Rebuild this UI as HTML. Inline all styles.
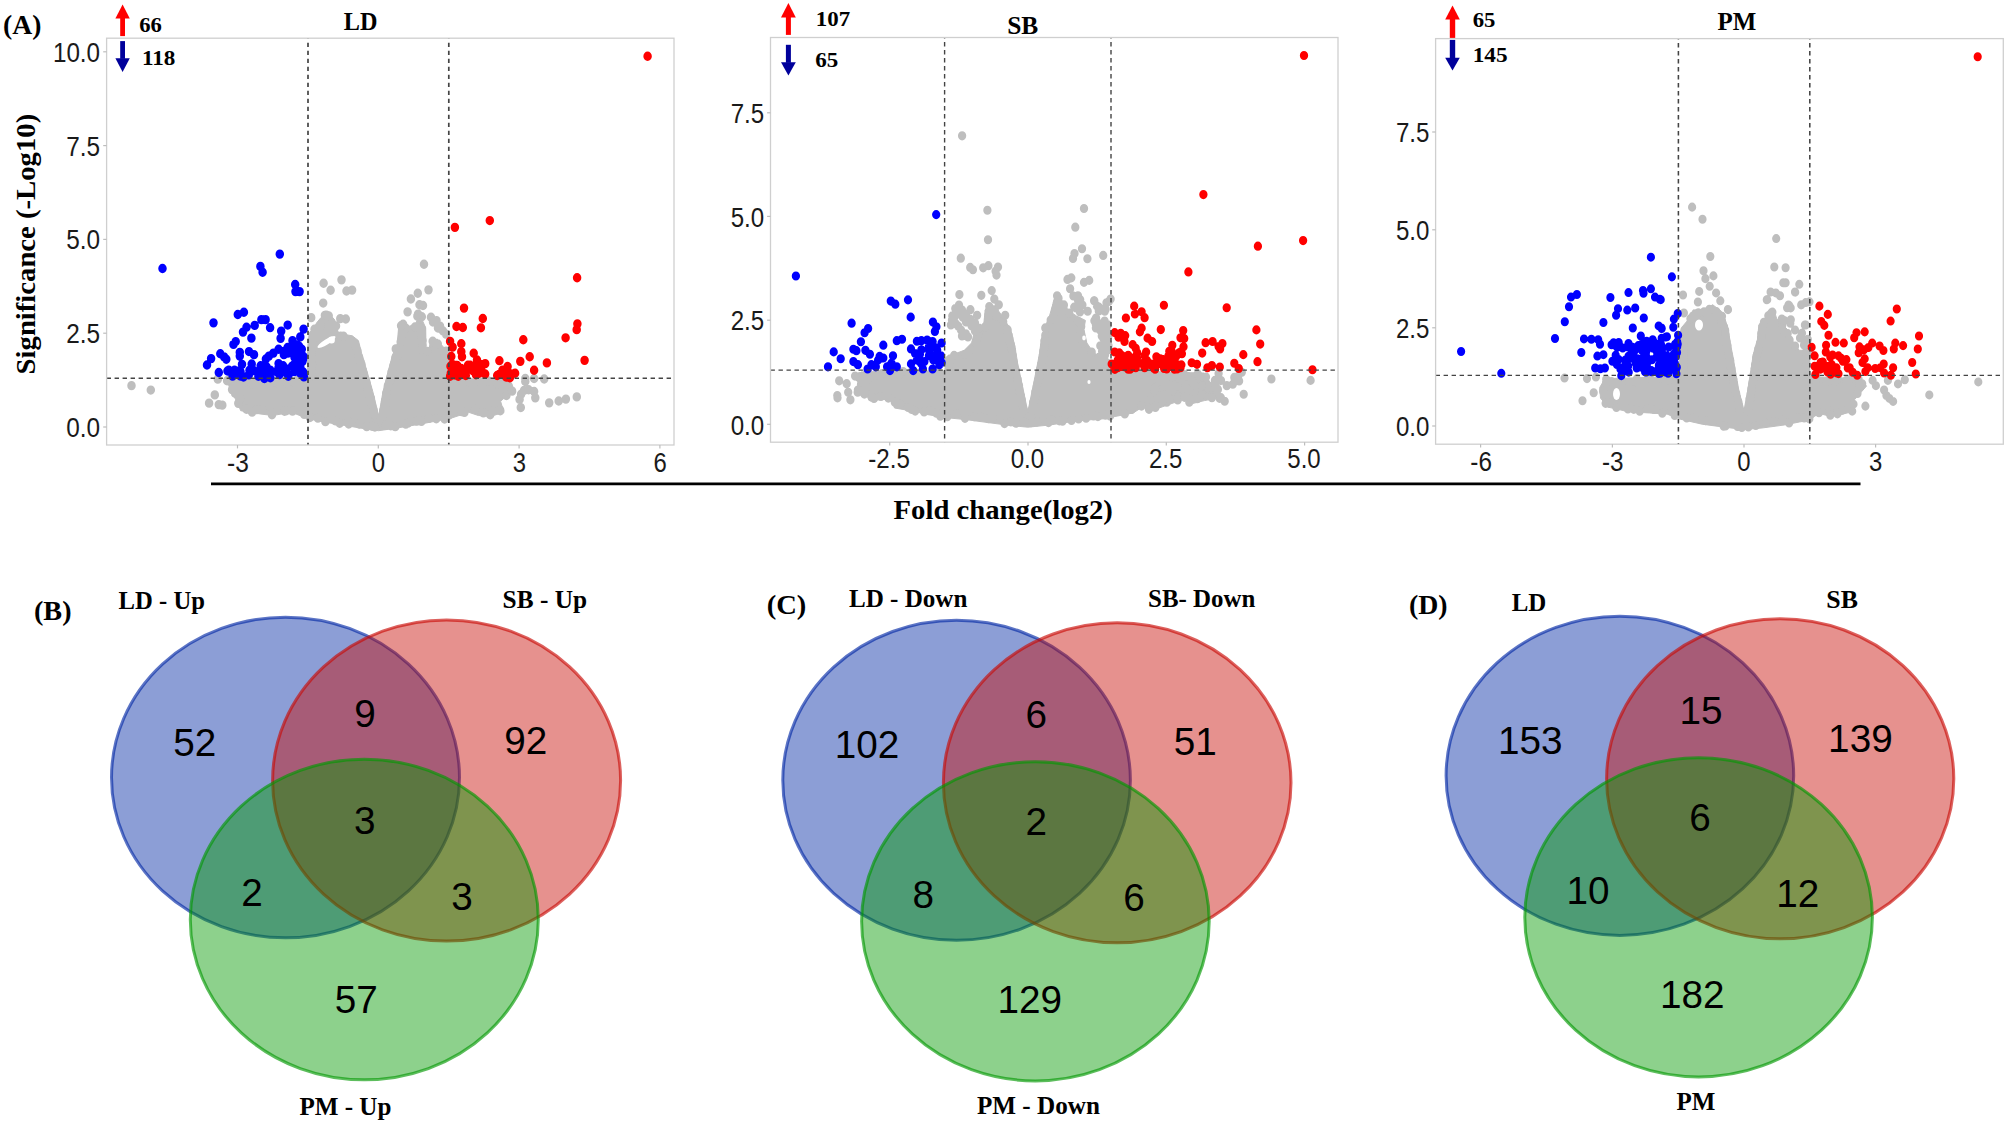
<!DOCTYPE html>
<html><head><meta charset="utf-8"><title>Figure</title>
<style>html,body{margin:0;padding:0;background:#fff}svg{display:block}</style></head>
<body><svg width="2007" height="1124" viewBox="0 0 2007 1124">
<rect width="2007" height="1124" fill="#fff"/>
<g>
<polygon points="226.4,379.6 231.2,391.6 237.5,402.8 240.7,410.7 259.9,413.9 272.6,415.5 291.7,412.3 307.7,418.7 323.6,421.9 347.6,425.9 366.7,429.1 378.6,430.7 395.4,428.3 419.3,424.3 440.0,420.3 449.6,418.7 468.7,412.3 478.3,415.5 491.0,416.3 503.8,412.3 500.6,401.2 513.4,390.0 511.8,383.6 503.8,379.6 449.6,378.9 448.0,350.2 443.2,347.0 438.4,340.6 430.5,340.6 428.9,350.2 426.0,350.0 425.7,327.8 419.3,313.5 416.1,323.0 409.7,326.2 401.8,323.0 398.6,327.8 397.2,343.8 392.6,354.9 387.8,372.5 383.0,391.6 378.7,416.0 372.8,391.6 366.4,369.3 361.6,353.3 358.4,340.6 352.3,335.8 342.8,334.2 338.0,332.6 336.5,326.0 334.8,320.0 330.0,314.5 326.0,313.5 321.0,317.5 316.5,323.0 313.5,329.0 309.3,332.6 307.7,350.2 307.7,378.9" fill="#bebebe" stroke="#bebebe" stroke-width="1" stroke-linejoin="round"/><path d="M230.8 344.4h0M232.1 354.2h0M235.0 357.4h0M240.0 362.6h0M238.3 366.7h0M246.5 372.0h0M252.1 374.7h0M257.0 372.4h0M262.0 372.1h0M272.0 377.1h0M272.3 375.1h0M284.6 373.9h0M286.3 373.4h0M292.5 373.7h0M304.2 376.7h0M309.9 379.6h0M317.9 380.1h0M325.4 383.3h0M335.1 382.5h0M339.7 384.8h0M348.3 383.2h0M348.7 385.5h0M359.2 385.5h0M366.7 387.9h0M372.1 387.5h0M374.9 388.2h0M385.4 386.7h0M390.8 387.1h0M395.3 387.9h0M405.8 385.6h0M407.9 384.7h0M416.9 382.8h0M421.4 383.1h0M428.9 380.3h0M436.3 380.7h0M444.6 380.9h0M448.7 377.4h0M461.2 374.1h0M464.4 374.9h0M475.1 372.0h0M483.4 375.3h0M490.2 377.0h0M492.8 373.3h0M500.3 373.4h0M500.1 372.8h0M506.4 359.5h0M509.2 352.8h0M508.2 350.2h0M504.1 348.1h0M500.4 347.2h0M497.4 349.1h0M488.3 346.2h0M482.7 347.3h0M477.5 346.6h0M470.4 347.7h0M463.9 346.9h0M461.5 346.0h0M454.5 347.4h0M445.3 342.2h0M445.1 339.5h0M445.0 338.1h0M445.5 334.0h0M445.5 333.0h0M445.0 328.0h0M444.5 326.9h0M444.9 323.3h0M444.3 321.0h0M446.2 319.2h0M437.8 312.7h0M435.9 312.0h0M432.7 310.2h0M427.6 319.5h0M421.7 317.9h0M422.4 313.9h0M421.7 310.7h0M422.5 309.5h0M421.8 306.3h0M421.7 303.4h0M421.8 299.0h0M420.5 298.4h0M417.4 287.4h0M421.8 287.9h0M415.0 297.3h0M405.9 298.4h0M403.1 294.8h0M402.5 301.2h0M402.4 302.1h0M402.2 305.1h0M401.3 309.2h0M400.8 310.6h0M395.8 317.2h0M397.5 323.4h0M395.5 325.0h0M395.3 328.7h0M394.2 330.8h0M393.5 332.5h0M393.1 334.8h0M391.7 338.0h0M391.6 339.8h0M390.5 343.2h0M390.0 346.3h0M387.9 350.7h0M388.0 351.6h0M387.0 356.9h0M386.3 357.5h0M386.2 361.3h0M385.1 364.7h0M384.9 367.4h0M384.9 369.1h0M384.2 371.2h0M383.2 373.4h0M382.3 378.5h0M374.3 376.9h0M373.7 373.9h0M373.4 372.5h0M372.0 368.3h0M370.9 365.4h0M371.1 364.8h0M370.9 362.0h0M369.4 359.5h0M368.1 354.8h0M367.8 353.1h0M366.7 348.9h0M366.1 346.6h0M365.6 345.1h0M363.7 339.9h0M362.8 336.9h0M362.2 336.0h0M361.4 331.3h0M360.5 328.9h0M359.4 327.8h0M359.1 324.9h0M357.2 319.2h0M357.3 318.7h0M355.8 315.6h0M355.0 313.2h0M353.1 311.5h0M343.4 305.6h0M340.7 305.7h0M334.5 302.5h0M336.0 296.3h0M328.7 287.1h0M327.0 287.6h0M324.9 286.7h0M320.7 296.0h0M314.5 299.3h0M314.7 302.1h0M312.9 305.8h0M312.8 308.1h0M312.5 309.9h0M311.8 313.2h0M311.6 315.7h0M311.5 321.2h0M311.7 323.2h0M311.4 326.9h0M311.4 327.9h0M311.9 330.9h0M311.4 335.4h0M311.6 336.7h0M311.6 340.3h0M311.1 342.3h0M306.2 345.2h0M298.0 345.2h0M294.8 347.6h0M287.2 348.3h0M279.6 348.7h0M275.5 347.2h0M265.2 345.5h0M258.0 346.0h0M252.9 349.4h0M246.3 346.7h0M244.5 347.5h0M233.2 346.7h0M227.1 346.1h0" fill="none" stroke="#bebebe" stroke-width="8.50" stroke-linecap="round" transform="scale(1,1.100)"/>
<ellipse cx="326.5" cy="342.0" rx="10.5" ry="2.7" fill="#fff" transform="rotate(-32 326.5 342.0)"/>
<ellipse cx="331.5" cy="340.0" rx="3.4" ry="3.6" fill="#fff" transform="rotate(0 331.5 340.0)"/>
<path d="M131.5 350.6h0M150.8 354.6h0M217.8 344.7h0M214.8 359.0h0M209.1 366.5h0M218.8 367.8h0M222.3 368.3h0M424.0 240.2h0M341.5 254.4h0M323.6 257.5h0M330.6 263.9h0M346.5 264.5h0M352.1 263.7h0M323.2 275.5h0M428.5 263.5h0M417.8 266.6h0M410.9 271.8h0M419.5 277.0h0M423.0 277.7h0M407.6 283.5h0M418.1 285.6h0M311.2 288.8h0M326.4 286.5h0M340.3 289.7h0M345.8 290.0h0M431.0 288.4h0M436.5 291.5h0M440.0 296.5h0M446.0 303.7h0M401.1 296.1h0M525.3 344.1h0M525.3 346.8h0M534.1 344.1h0M544.2 344.5h0M512.1 355.6h0M524.1 354.9h0M528.6 354.3h0M534.1 355.9h0M535.3 361.7h0M521.1 358.4h0M519.6 363.1h0M520.8 370.5h0M549.2 366.2h0M558.7 364.5h0M565.9 362.8h0M576.8 360.8h0M433.0 292.7h0M438.0 298.2h0M443.0 300.9h0" fill="none" stroke="#bebebe" stroke-width="8.50" stroke-linecap="round" transform="scale(1,1.100)"/>
<path d="M162.5 244.1h0M279.8 231.0h0M260.4 242.2h0M262.6 247.5h0M295.2 258.6h0M295.5 265.1h0M299.6 265.1h0M243.9 283.9h0M237.8 285.9h0M213.5 293.5h0M261.4 290.6h0M265.6 290.6h0M254.7 295.8h0M246.5 297.5h0M243.0 301.9h0M270.1 297.9h0M287.7 295.5h0M281.2 301.0h0M303.6 299.2h0M251.4 307.4h0M280.6 307.6h0M300.3 306.3h0M292.5 309.7h0M235.7 310.5h0M233.5 313.1h0M287.6 315.9h0M278.6 317.5h0M297.3 316.2h0M301.8 317.5h0M249.0 319.6h0M254.0 322.4h0M239.8 320.3h0M239.8 323.7h0M220.3 321.6h0M224.1 324.4h0M226.3 326.6h0M211.1 326.0h0M207.0 331.8h0M273.4 321.0h0M268.9 323.7h0M265.9 326.4h0M283.9 322.4h0M289.8 318.9h0M295.8 325.7h0M301.0 323.0h0M302.5 328.5h0M242.0 331.2h0M251.7 330.9h0M260.7 332.5h0M278.6 330.5h0M283.1 332.5h0M294.3 331.2h0M300.3 333.9h0M218.8 338.6h0M227.5 337.3h0M234.5 336.6h0M240.5 337.9h0M243.5 342.7h0M249.5 336.6h0M257.0 337.9h0M258.4 342.0h0M264.4 344.1h0M270.4 336.6h0M270.4 343.4h0M276.4 337.9h0M279.4 340.6h0M286.8 339.3h0M288.3 342.0h0M294.3 337.9h0M300.3 339.3h0M303.3 340.6h0M264.4 335.3h0M297.3 328.5h0M298.8 320.3h0M299.0 314.7h0M295.7 330.8h0M284.6 319.3h0M295.9 326.0h0M303.9 342.6h0M297.0 321.6h0M303.0 338.0h0M303.5 324.1h0M295.1 335.9h0M298.2 315.5h0M284.6 334.4h0M295.4 315.4h0M287.9 321.0h0M294.4 323.3h0M303.0 326.8h0M300.8 317.5h0M301.8 337.1h0M294.5 324.8h0M294.3 320.9h0M297.3 313.9h0M264.1 339.3h0M278.6 334.2h0M228.8 336.5h0M248.8 340.8h0M280.5 338.7h0M270.4 339.3h0M239.0 337.1h0M240.3 341.8h0M232.5 340.9h0M233.7 339.6h0M253.6 336.8h0M292.0 332.9h0M232.6 341.9h0M266.7 333.6h0" fill="none" stroke="#0000ff" stroke-width="8.50" stroke-linecap="round" transform="scale(1,1.100)"/>
<path d="M647.6 51.1h0M454.9 206.7h0M489.8 200.5h0M577.1 252.5h0M464.0 280.1h0M482.8 289.5h0M456.5 296.8h0M462.8 297.7h0M480.9 298.0h0M577.4 294.4h0M576.7 299.7h0M565.6 307.1h0M523.3 308.9h0M450.1 310.3h0M461.3 312.5h0M452.6 315.6h0M461.3 319.7h0M462.0 324.3h0M473.7 321.1h0M529.7 324.3h0M520.3 328.5h0M499.4 327.9h0M546.9 329.9h0M584.6 327.6h0M477.0 327.3h0M485.2 330.6h0M468.0 332.0h0M452.3 331.3h0M507.6 333.2h0M534.1 336.6h0M480.7 331.2h0M456.1 332.5h0M515.1 339.3h0M510.6 340.0h0M504.6 336.6h0M501.6 339.3h0M497.2 341.4h0M506.1 342.7h0M509.9 343.4h0M485.2 340.0h0M479.2 339.3h0M473.2 337.3h0M465.8 337.9h0M459.8 338.6h0M455.3 337.9h0M450.8 339.3h0M450.1 342.0h0M458.3 342.0h0M465.8 341.4h0M476.2 335.3h0M451.3 324.1h0M459.8 338.4h0M476.0 340.7h0M457.1 332.2h0M455.6 332.2h0M477.9 330.9h0M470.2 332.0h0M461.2 335.0h0M481.8 337.4h0M450.5 332.9h0M455.6 341.0h0M499.1 340.3h0M510.0 342.2h0M502.4 336.6h0M511.7 339.9h0M503.1 340.1h0" fill="none" stroke="#ff0000" stroke-width="8.50" stroke-linecap="round" transform="scale(1,1.100)"/>
<line x1="308.0" y1="38.2" x2="308.0" y2="445.0" stroke="#444" stroke-width="1.70" stroke-dasharray="4.4 3.6" stroke-dashoffset="-4.5"/>
<line x1="448.8" y1="38.2" x2="448.8" y2="445.0" stroke="#444" stroke-width="1.70" stroke-dasharray="4.4 3.6" stroke-dashoffset="-4.5"/>
<line x1="106.6" y1="378.2" x2="674.0" y2="378.2" stroke="#444" stroke-width="1.53" stroke-dasharray="4.4 3.6"/>
<rect x="106.6" y="38.2" width="567.4" height="406.8" fill="none" stroke="#cfcfcf" stroke-width="1.3"/>
<line x1="237.5" y1="445.0" x2="237.5" y2="448.4" stroke="#bdbdbd" stroke-width="1.2"/>
<line x1="378.3" y1="445.0" x2="378.3" y2="448.4" stroke="#bdbdbd" stroke-width="1.2"/>
<line x1="519.1" y1="445.0" x2="519.1" y2="448.4" stroke="#bdbdbd" stroke-width="1.2"/>
<line x1="659.9" y1="445.0" x2="659.9" y2="448.4" stroke="#bdbdbd" stroke-width="1.2"/>
<line x1="103.2" y1="51.8" x2="106.6" y2="51.8" stroke="#bdbdbd" stroke-width="1.2"/>
<line x1="103.2" y1="145.6" x2="106.6" y2="145.6" stroke="#bdbdbd" stroke-width="1.2"/>
<line x1="103.2" y1="239.4" x2="106.6" y2="239.4" stroke="#bdbdbd" stroke-width="1.2"/>
<line x1="103.2" y1="333.2" x2="106.6" y2="333.2" stroke="#bdbdbd" stroke-width="1.2"/>
<line x1="103.2" y1="427.0" x2="106.6" y2="427.0" stroke="#bdbdbd" stroke-width="1.2"/>
</g>
<g>
<polygon points="855.7,379.6 864.6,390.0 869.1,400.5 891.5,399.0 894.5,408.0 914.9,411.5 926.9,414.5 944.8,417.5 967.3,419.8 989.7,422.8 1012.1,425.7 1027.8,427.2 1049.5,425.0 1079.4,420.5 1101.8,419.0 1121.2,415.3 1133.2,413.0 1143.1,406.6 1150.6,411.0 1167.1,405.1 1185.0,399.0 1189.5,404.3 1204.4,400.6 1220.9,397.6 1212.0,385.0 1204.0,373.0 1109.3,371.0 1109.3,360.7 1100.3,357.7 1092.8,351.7 1086.8,342.8 1083.9,329.3 1085.4,320.4 1076.4,315.9 1067.4,309.9 1061.4,299.4 1055.5,294.9 1049.5,315.9 1043.5,330.8 1041.3,339.8 1039.3,354.7 1036.4,369.7 1033.4,384.6 1027.8,412.0 1022.2,384.6 1017.7,363.7 1014.8,345.8 1010.6,329.3 1003.1,317.4 995.7,306.9 989.7,304.7 985.2,309.9 983.7,324.8 974.7,330.8 971.7,342.8 964.3,350.3 952.3,354.7 946.3,357.7 944.8,371.0 900.0,371.0 861.0,372.0" fill="#bebebe" stroke="#bebebe" stroke-width="1" stroke-linejoin="round"/><path d="M863.5 346.8h0M861.0 349.6h0M871.8 361.2h0M874.0 362.2h0M880.9 360.5h0M888.3 361.9h0M894.8 365.6h0M900.2 367.3h0M908.2 370.4h0M911.4 372.1h0M915.2 373.7h0M924.1 374.5h0M929.9 373.2h0M936.5 375.6h0M940.3 378.4h0M947.3 378.9h0M956.6 376.1h0M965.0 380.3h0M974.5 378.8h0M980.9 379.1h0M988.5 380.6h0M993.0 380.3h0M1004.5 385.1h0M1010.7 383.5h0M1016.0 384.8h0M1024.2 383.8h0M1031.0 384.3h0M1037.1 383.5h0M1048.5 384.2h0M1052.2 381.8h0M1059.4 382.6h0M1062.5 382.9h0M1071.5 382.3h0M1078.6 380.9h0M1086.1 380.2h0M1093.8 378.1h0M1097.9 378.7h0M1105.4 377.5h0M1110.0 378.3h0M1117.2 373.9h0M1124.8 376.3h0M1131.4 372.3h0M1141.5 369.2h0M1149.0 372.1h0M1155.4 370.5h0M1159.2 366.6h0M1166.8 365.7h0M1177.7 363.6h0M1178.9 360.4h0M1189.7 362.6h0M1189.3 365.7h0M1197.4 362.5h0M1204.2 359.8h0M1212.2 359.5h0M1219.6 362.1h0M1212.0 351.6h0M1208.3 350.8h0M1206.0 342.7h0M1197.7 339.9h0M1197.4 340.7h0M1187.4 342.2h0M1184.3 340.4h0M1178.5 340.8h0M1167.5 341.8h0M1160.3 341.7h0M1154.3 341.4h0M1150.5 339.3h0M1143.0 339.6h0M1140.2 340.1h0M1129.0 338.5h0M1124.5 339.5h0M1118.7 338.4h0M1109.5 338.7h0M1107.0 331.6h0M1108.2 330.4h0M1098.9 324.8h0M1091.7 320.0h0M1082.9 312.1h0M1081.6 307.8h0M1080.5 303.4h0M1080.8 302.4h0M1081.2 296.9h0M1078.0 292.0h0M1069.2 284.5h0M1063.7 281.0h0M1063.9 277.2h0M1058.5 271.1h0M1058.2 270.9h0M1057.9 271.9h0M1056.9 275.0h0M1056.1 278.6h0M1055.5 280.8h0M1055.0 283.3h0M1053.4 288.1h0M1050.7 291.0h0M1045.3 298.1h0M1045.3 304.7h0M1044.5 309.8h0M1044.2 314.2h0M1044.4 316.2h0M1043.4 319.1h0M1042.9 322.8h0M1043.2 323.2h0M1042.2 326.1h0M1041.5 330.9h0M1041.2 331.3h0M1040.4 335.1h0M1040.0 337.3h0M1039.2 339.6h0M1039.1 343.3h0M1038.5 345.1h0M1037.6 348.1h0M1036.8 351.4h0M1035.9 355.2h0M1035.4 356.1h0M1035.5 358.9h0M1034.6 363.2h0M1033.1 366.0h0M1033.2 368.8h0M1032.3 371.7h0M1031.8 373.4h0M1023.9 373.0h0M1023.2 371.0h0M1022.0 367.1h0M1021.4 364.4h0M1021.7 363.3h0M1020.9 360.0h0M1020.0 357.5h0M1019.1 353.3h0M1019.0 350.7h0M1017.8 349.5h0M1017.9 347.2h0M1017.6 344.7h0M1015.6 339.9h0M1015.9 337.7h0M1015.4 335.9h0M1014.1 332.3h0M1013.8 330.0h0M1013.4 328.2h0M1012.3 323.2h0M1012.5 322.8h0M1012.0 318.4h0M1011.2 315.2h0M1010.7 313.1h0M1009.2 309.3h0M1009.3 307.4h0M1008.7 304.8h0M1006.9 301.5h0M1007.6 299.7h0M1003.2 292.4h0M996.7 287.6h0M994.7 281.7h0M989.3 278.7h0M988.9 282.5h0M989.0 284.7h0M988.6 286.2h0M988.2 290.2h0M987.6 295.5h0M985.0 297.2h0M978.2 303.6h0M977.4 306.1h0M977.3 307.2h0M975.6 311.7h0M968.1 320.6h0M965.1 322.2h0M954.1 323.1h0M949.2 327.0h0M950.3 326.2h0M949.7 329.0h0M948.9 332.9h0M948.7 336.3h0M943.5 341.6h0M937.9 337.6h0M928.9 341.1h0M921.4 340.7h0M916.1 340.4h0M910.7 338.7h0M903.2 337.7h0M899.6 340.8h0M892.5 340.9h0M882.0 339.7h0M876.2 341.4h0M868.4 338.9h0M866.5 340.0h0M859.9 342.3h0" fill="none" stroke="#bebebe" stroke-width="8.30" stroke-linecap="round" transform="scale(1,1.100)"/>
<ellipse cx="1084.0" cy="338.0" rx="1.8" ry="2.4" fill="#fff" transform="rotate(0 1084.0 338.0)"/>
<ellipse cx="1089.0" cy="382.0" rx="1.6" ry="2.0" fill="#fff" transform="rotate(0 1089.0 382.0)"/>
<path d="M962.1 123.5h0M987.4 191.1h0M988.0 218.0h0M1084.0 189.5h0M1075.3 206.5h0M1082.0 226.1h0M1074.5 230.4h0M1073.0 235.0h0M1087.4 235.2h0M1103.2 232.2h0M960.8 234.7h0M970.2 243.1h0M972.9 245.2h0M983.2 243.5h0M988.4 241.5h0M998.0 242.7h0M995.6 246.5h0M996.5 250.1h0M991.7 264.2h0M959.4 267.8h0M981.3 268.5h0M994.3 271.9h0M998.8 277.1h0M970.4 281.5h0M956.2 281.2h0M977.1 286.6h0M1005.2 286.6h0M950.9 295.5h0M961.4 285.9h0M954.7 288.0h0M1067.5 254.0h0M1071.3 252.6h0M1084.0 256.7h0M1089.2 254.9h0M1070.1 262.5h0M1057.1 268.9h0M1078.0 268.9h0M1080.2 272.4h0M1074.2 279.2h0M1094.1 273.5h0M1110.6 271.9h0M1087.7 282.9h0M1098.9 279.2h0M1105.6 281.2h0M839.2 346.2h0M848.2 356.6h0M850.4 363.5h0M857.9 354.5h0M1218.6 339.5h0M1241.8 338.4h0M1271.4 344.5h0M1310.6 345.8h0M1243.7 358.4h0M1234.3 343.1h0M1238.8 345.8h0M1232.8 349.3h0M1226.8 350.6h0M1214.9 345.8h0M1214.9 349.3h0M1217.9 354.0h0M1220.9 361.5h0M1211.9 361.5h0M959.0 277.3h0M962.0 281.8h0M966.0 285.5h0M970.0 290.0h0M975.0 293.6h0M979.0 298.2h0M952.0 290.9h0M956.0 294.5h0M961.0 300.0h0M968.0 306.4h0M962.0 305.5h0M955.3 280.4h0M958.0 284.5h0M962.8 288.5h0M966.0 292.7h0M971.7 296.4h0M975.0 300.9h0M952.3 287.2h0M958.3 296.6h0M965.8 303.5h0M1094.3 273.5h0M1097.0 278.2h0M1098.8 282.7h0M1096.0 289.1h0M1095.8 294.5h0M1100.0 300.0h0M1101.8 305.5h0M1107.8 295.3h0M1107.0 302.7h0M1107.8 311.6h0M1103.0 316.4h0M1100.3 314.4h0M1105.0 322.7h0M1073.4 269.1h0M1078.0 272.7h0M1082.4 277.3h0M1076.0 280.0h0M1080.0 283.6h0M1104.4 293.8h0M1095.9 298.1h0M1096.1 289.2h0M1094.5 291.6h0M1095.4 290.2h0M1104.6 291.8h0M1100.1 294.5h0M1108.8 274.1h0M1101.3 297.0h0M1104.8 283.0h0M1097.9 296.9h0M1094.4 291.7h0M1106.5 275.2h0M1098.2 279.2h0M1101.7 280.9h0M1107.3 296.1h0M1104.4 326.8h0M1108.6 304.8h0M1108.8 317.9h0M1101.4 327.6h0M1103.3 307.6h0M1104.8 316.4h0M1102.1 319.4h0M1108.5 314.0h0M1108.2 317.5h0M1108.4 303.8h0M1104.2 312.7h0M1101.9 328.3h0M1106.7 301.2h0M1106.2 311.0h0M1221.0 345.9h0M1224.7 364.8h0M1239.1 346.4h0M1184.6 361.2h0M1161.8 342.0h0M1169.1 362.5h0M1199.2 342.4h0M1201.8 358.4h0M1217.1 355.2h0M1159.1 346.8h0M1162.7 364.5h0M1194.6 350.5h0M1154.2 354.8h0M1153.2 341.4h0M1177.8 351.4h0M1166.0 343.3h0M1153.1 341.4h0M1202.0 350.6h0M1238.2 342.0h0M1173.0 342.6h0M1191.4 346.3h0M1150.6 363.3h0M1159.8 346.1h0M1163.6 358.9h0M1155.0 352.8h0M1220.7 346.0h0M857.7 356.6h0M868.5 344.6h0M837.3 359.5h0M846.7 348.8h0M863.5 344.3h0M866.8 351.6h0M837.5 361.7h0M855.1 341.9h0M864.4 358.3h0M860.9 355.5h0" fill="none" stroke="#bebebe" stroke-width="8.30" stroke-linecap="round" transform="scale(1,1.100)"/>
<path d="M795.9 250.9h0M936.2 195.1h0M890.8 273.7h0M895.3 276.5h0M908.0 272.6h0M910.7 288.3h0M851.6 293.8h0M932.9 292.7h0M936.4 297.1h0M934.9 301.3h0M868.1 298.6h0M864.6 302.5h0M860.9 310.7h0M883.3 313.8h0M896.8 309.7h0M902.0 308.4h0M916.9 310.2h0M921.4 309.7h0M927.1 309.1h0M932.6 310.5h0M941.6 311.8h0M911.0 317.2h0M833.7 319.9h0M840.7 326.1h0M853.4 317.5h0M856.4 318.8h0M865.4 318.5h0M869.9 322.0h0M879.6 324.0h0M883.3 325.4h0M878.1 327.4h0M893.0 323.4h0M921.4 317.9h0M928.9 315.2h0M936.4 316.5h0M919.9 322.0h0M928.9 323.4h0M936.4 322.0h0M940.9 323.4h0M916.9 327.4h0M924.4 328.7h0M933.4 327.4h0M941.6 329.5h0M853.4 328.7h0M857.9 331.5h0M828.0 333.5h0M871.4 331.5h0M875.8 333.5h0M867.6 335.5h0M891.5 330.1h0M887.1 333.5h0M896.8 333.5h0M890.0 336.9h0M911.0 330.8h0M913.2 336.9h0M922.9 335.5h0M932.6 335.5h0M939.4 331.5h0M919.6 328.1h0M932.8 323.7h0M921.0 330.2h0M937.6 324.4h0M929.1 318.6h0M915.1 321.4h0M931.4 315.1h0M937.2 318.5h0" fill="none" stroke="#0000ff" stroke-width="8.30" stroke-linecap="round" transform="scale(1,1.100)"/>
<path d="M1304.0 50.4h0M1203.4 176.9h0M1257.9 223.8h0M1303.1 218.7h0M1188.4 247.2h0M1163.9 277.5h0M1226.7 279.8h0M1134.2 278.3h0M1141.6 283.4h0M1134.9 285.4h0M1144.6 288.8h0M1125.9 289.1h0M1141.6 298.3h0M1139.9 301.7h0M1160.8 299.6h0M1183.2 300.4h0M1256.4 299.9h0M1180.5 307.1h0M1184.2 307.8h0M1114.7 302.4h0M1120.7 303.0h0M1125.2 305.1h0M1118.5 306.5h0M1124.5 310.5h0M1147.6 307.4h0M1152.1 310.5h0M1132.7 313.3h0M1135.7 316.6h0M1172.3 313.9h0M1183.5 315.3h0M1180.5 320.0h0M1205.6 311.5h0M1212.6 310.5h0M1222.4 312.3h0M1220.1 317.3h0M1218.6 315.0h0M1260.2 312.8h0M1202.2 321.0h0M1243.3 322.4h0M1257.5 328.8h0M1234.3 330.2h0M1238.8 335.0h0M1312.5 336.1h0M1191.7 329.8h0M1197.0 331.2h0M1207.4 334.3h0M1211.9 332.3h0M1219.8 333.6h0M1146.1 320.0h0M1169.3 319.4h0M1168.5 323.5h0M1114.7 320.0h0M1119.2 320.7h0M1122.2 323.5h0M1137.2 320.7h0M1135.7 324.8h0M1144.6 323.5h0M1158.1 326.8h0M1167.1 328.8h0M1173.0 328.8h0M1111.7 330.9h0M1117.7 327.5h0M1123.7 330.2h0M1131.2 328.8h0M1138.7 330.2h0M1144.6 328.8h0M1150.6 331.5h0M1156.6 331.5h0M1162.6 331.5h0M1168.5 332.9h0M1174.5 331.5h0M1180.5 334.3h0M1117.7 334.3h0M1126.7 334.3h0M1135.7 334.3h0M1144.6 334.3h0M1155.1 335.6h0M1164.1 335.0h0M1174.5 335.6h0M1179.1 320.7h0M1181.9 321.5h0M1128.2 335.6h0M1154.1 335.1h0M1176.7 331.1h0M1173.7 328.9h0M1125.3 333.6h0M1151.6 330.9h0M1130.1 335.6h0M1166.7 335.5h0M1122.0 333.2h0M1114.3 335.0h0M1176.2 323.8h0M1136.9 326.0h0M1177.1 335.5h0M1124.0 328.1h0M1135.0 324.7h0M1146.9 327.7h0M1181.4 331.7h0M1162.9 329.9h0M1166.9 333.1h0M1156.4 324.4h0M1160.4 326.1h0M1114.9 335.8h0M1120.3 322.1h0M1172.6 321.5h0M1118.8 326.7h0M1171.4 318.8h0M1162.3 326.6h0M1128.2 323.0h0" fill="none" stroke="#ff0000" stroke-width="8.30" stroke-linecap="round" transform="scale(1,1.100)"/>
<line x1="944.6" y1="37.5" x2="944.6" y2="442.2" stroke="#444" stroke-width="1.40" stroke-dasharray="4.4 3.6" stroke-dashoffset="-4.5"/>
<line x1="1111.0" y1="37.5" x2="1111.0" y2="442.2" stroke="#444" stroke-width="1.40" stroke-dasharray="4.4 3.6" stroke-dashoffset="-4.5"/>
<line x1="770.5" y1="370.2" x2="1338.0" y2="370.2" stroke="#444" stroke-width="1.26" stroke-dasharray="4.4 3.6"/>
<rect x="770.5" y="37.5" width="567.5" height="404.7" fill="none" stroke="#cfcfcf" stroke-width="1.3"/>
<line x1="889.7" y1="442.2" x2="889.7" y2="445.6" stroke="#bdbdbd" stroke-width="1.2"/>
<line x1="1028.0" y1="442.2" x2="1028.0" y2="445.6" stroke="#bdbdbd" stroke-width="1.2"/>
<line x1="1166.3" y1="442.2" x2="1166.3" y2="445.6" stroke="#bdbdbd" stroke-width="1.2"/>
<line x1="1304.6" y1="442.2" x2="1304.6" y2="445.6" stroke="#bdbdbd" stroke-width="1.2"/>
<line x1="767.1" y1="112.8" x2="770.5" y2="112.8" stroke="#bdbdbd" stroke-width="1.2"/>
<line x1="767.1" y1="216.4" x2="770.5" y2="216.4" stroke="#bdbdbd" stroke-width="1.2"/>
<line x1="767.1" y1="320.2" x2="770.5" y2="320.2" stroke="#bdbdbd" stroke-width="1.2"/>
<line x1="767.1" y1="424.3" x2="770.5" y2="424.3" stroke="#bdbdbd" stroke-width="1.2"/>
</g>
<g>
<polygon points="1604.9,378.7 1599.7,387.6 1600.5,398.1 1607.9,407.1 1627.4,411.5 1649.8,413.0 1672.2,414.5 1679.7,419.0 1702.1,424.2 1724.5,427.2 1744.0,429.5 1761.9,428.0 1784.3,425.0 1799.3,422.0 1811.2,419.8 1817.2,413.0 1829.1,416.0 1841.1,414.5 1853.1,411.5 1854.6,399.6 1866.5,386.1 1860.6,378.7 1809.7,376.5 1809.7,350.3 1799.3,350.3 1793.3,342.8 1788.8,330.8 1782.8,324.8 1776.8,318.9 1773.9,309.9 1769.4,309.1 1764.9,318.9 1758.9,324.8 1757.4,339.8 1753.2,354.7 1751.0,369.7 1747.4,392.1 1744.0,410.5 1739.2,392.1 1736.2,375.7 1733.2,357.7 1730.5,344.3 1728.3,329.3 1724.5,317.4 1721.5,311.4 1712.6,304.7 1705.1,309.9 1693.1,309.9 1690.1,317.4 1682.7,326.3 1679.7,333.8 1679.7,376.5" fill="#bebebe" stroke="#bebebe" stroke-width="1" stroke-linejoin="round"/><path d="M1606.1 347.5h0M1603.1 355.7h0M1605.6 366.7h0M1608.9 366.4h0M1616.4 370.5h0M1627.9 371.9h0M1633.8 372.2h0M1639.7 373.9h0M1647.4 371.4h0M1654.0 372.3h0M1662.3 375.7h0M1670.6 374.0h0M1674.7 377.7h0M1686.7 380.1h0M1693.5 379.8h0M1701.0 381.2h0M1705.6 382.4h0M1713.5 382.8h0M1723.7 387.6h0M1725.5 387.3h0M1737.5 387.7h0M1741.8 388.7h0M1748.4 388.2h0M1755.8 386.8h0M1765.7 384.5h0M1773.9 383.4h0M1782.6 382.1h0M1789.1 384.5h0M1797.3 379.6h0M1804.2 380.1h0M1809.3 380.8h0M1814.0 374.7h0M1819.0 375.3h0M1829.4 373.7h0M1829.1 374.5h0M1837.4 376.3h0M1841.9 373.0h0M1852.2 373.8h0M1853.5 367.4h0M1857.5 357.8h0M1862.2 348.8h0M1859.7 350.4h0M1858.6 344.8h0M1850.4 344.3h0M1846.5 345.7h0M1837.6 344.3h0M1834.7 347.2h0M1826.6 347.2h0M1816.6 344.4h0M1813.0 344.9h0M1805.9 340.4h0M1805.9 337.6h0M1806.0 333.5h0M1805.8 332.1h0M1806.2 329.7h0M1806.0 324.5h0M1806.5 322.8h0M1805.9 320.2h0M1809.5 321.3h0M1795.1 314.5h0M1789.6 309.0h0M1787.7 303.1h0M1781.9 299.2h0M1782.3 295.5h0M1770.3 285.7h0M1772.4 283.7h0M1768.3 287.0h0M1763.9 293.0h0M1762.6 296.6h0M1762.1 299.1h0M1761.3 303.1h0M1761.7 305.4h0M1761.0 307.3h0M1760.0 311.9h0M1759.9 313.0h0M1758.3 317.0h0M1758.0 318.8h0M1756.8 322.9h0M1756.2 325.2h0M1756.4 326.6h0M1755.5 330.8h0M1755.1 331.7h0M1754.6 335.3h0M1754.6 339.0h0M1753.8 340.0h0M1753.3 344.8h0M1752.5 347.7h0M1752.3 348.6h0M1751.4 353.4h0M1751.3 355.1h0M1750.7 358.2h0M1749.6 362.4h0M1750.3 362.7h0M1749.3 368.0h0M1749.0 369.5h0M1747.4 373.5h0M1739.5 372.0h0M1739.1 369.4h0M1738.7 367.6h0M1738.3 364.9h0M1737.0 361.2h0M1736.2 357.7h0M1734.8 354.4h0M1734.0 351.4h0M1733.7 348.4h0M1733.5 348.1h0M1733.3 344.6h0M1732.2 340.3h0M1731.4 338.3h0M1731.4 335.0h0M1730.6 333.3h0M1730.0 329.9h0M1730.2 327.5h0M1728.9 324.3h0M1728.5 322.3h0M1727.3 317.0h0M1727.5 314.1h0M1726.2 311.8h0M1726.6 310.6h0M1725.8 307.3h0M1725.4 304.1h0M1725.2 300.4h0M1725.1 300.1h0M1724.1 297.2h0M1721.6 292.4h0M1721.8 292.0h0M1722.0 287.5h0M1716.4 283.3h0M1709.3 281.2h0M1704.0 283.4h0M1698.4 284.3h0M1692.9 287.3h0M1690.4 289.8h0M1684.4 300.2h0M1683.3 305.6h0M1683.5 308.4h0M1683.3 310.2h0M1683.6 313.1h0M1683.6 315.7h0M1683.1 318.6h0M1683.6 321.6h0M1683.3 323.1h0M1683.8 326.8h0M1683.3 331.0h0M1683.7 333.7h0M1683.4 334.7h0M1683.7 337.1h0M1683.8 341.3h0M1674.9 345.5h0M1669.0 345.2h0M1666.7 345.4h0M1661.0 343.6h0M1650.0 343.5h0M1648.0 343.8h0M1636.8 344.4h0M1636.0 347.2h0M1629.2 347.4h0M1619.5 347.7h0M1611.5 346.8h0M1606.2 344.7h0" fill="none" stroke="#bebebe" stroke-width="8.20" stroke-linecap="round" transform="scale(1,1.100)"/>
<ellipse cx="1699.0" cy="325.0" rx="4.0" ry="5.5" fill="#fff" transform="rotate(0 1699.0 325.0)"/>
<ellipse cx="1616.5" cy="394.0" rx="3.5" ry="6.0" fill="#fff" transform="rotate(0 1616.5 394.0)"/>
<path d="M1692.1 188.3h0M1702.5 199.3h0M1776.2 216.9h0M1710.3 233.2h0M1774.3 242.7h0M1785.6 243.4h0M1703.5 246.1h0M1713.4 250.8h0M1705.4 253.3h0M1709.7 260.3h0M1699.2 264.9h0M1716.1 266.3h0M1683.0 268.2h0M1720.3 273.5h0M1697.9 274.6h0M1728.0 281.5h0M1683.9 284.5h0M1785.6 257.0h0M1783.3 257.0h0M1799.3 258.5h0M1795.0 265.5h0M1770.6 265.5h0M1775.8 266.3h0M1780.0 268.9h0M1767.2 272.4h0M1789.3 277.8h0M1787.1 279.8h0M1801.3 277.1h0M1805.7 275.1h0M1809.5 274.4h0M1805.7 295.5h0M1802.0 302.9h0M1807.2 309.0h0M1781.8 290.0h0M1790.8 290.7h0M1564.5 343.7h0M1593.7 357.1h0M1582.5 364.3h0M1587.0 344.2h0M1595.9 342.8h0M1978.3 347.2h0M1929.3 359.0h0M1904.8 345.2h0M1898.0 349.0h0M1887.9 345.8h0M1872.6 345.8h0M1875.9 350.6h0M1884.1 354.6h0M1886.4 359.5h0M1889.4 362.2h0M1893.1 364.9h0M1865.4 369.2h0M1830.3 377.5h0M1727.9 281.3h0M1766.8 272.5h0M1795.2 265.6h0M1788.5 277.2h0M1790.7 279.9h0M1801.2 277.2h0M1804.9 295.5h0M1801.9 303.0h0M1807.9 308.5h0M1784.3 291.3h0M1790.3 293.9h0M1795.0 300.0h0M1800.0 307.3h0M1804.0 313.6h0" fill="none" stroke="#bebebe" stroke-width="8.20" stroke-linecap="round" transform="scale(1,1.100)"/>
<path d="M1650.9 233.8h0M1671.9 251.7h0M1650.9 262.6h0M1643.0 264.0h0M1643.5 266.6h0M1628.5 266.0h0M1655.0 270.1h0M1659.9 272.1h0M1610.4 270.4h0M1576.9 267.7h0M1571.0 270.1h0M1569.0 278.9h0M1618.0 280.6h0M1616.1 286.6h0M1627.3 281.9h0M1635.2 280.0h0M1643.8 289.1h0M1677.7 285.0h0M1673.9 290.1h0M1603.4 293.2h0M1564.8 292.5h0M1632.8 298.2h0M1658.7 296.3h0M1661.7 298.6h0M1673.3 297.5h0M1678.1 304.7h0M1640.8 305.4h0M1661.7 307.5h0M1666.9 306.1h0M1555.0 307.7h0M1584.0 308.1h0M1591.4 308.4h0M1598.2 308.8h0M1600.0 312.9h0M1613.6 311.5h0M1628.5 312.2h0M1646.7 310.2h0M1652.7 308.8h0M1675.1 312.9h0M1581.3 320.4h0M1461.1 319.6h0M1501.3 339.4h0M1597.4 323.7h0M1603.4 322.4h0M1595.2 334.6h0M1600.4 335.3h0M1604.9 334.6h0M1621.3 341.5h0M1660.7 272.4h0M1661.5 298.2h0M1666.0 306.4h0M1656.2 314.2h0M1625.0 332.7h0M1660.1 329.9h0M1646.0 323.4h0M1677.7 312.8h0M1673.8 322.1h0M1677.2 310.9h0M1668.9 329.5h0M1664.0 331.9h0M1653.2 316.6h0M1632.2 320.0h0M1676.4 339.8h0M1646.7 330.2h0M1657.0 312.9h0M1639.7 333.7h0M1617.2 315.8h0M1658.2 335.6h0M1643.4 333.7h0M1611.6 313.4h0M1662.0 317.6h0M1677.0 320.5h0M1634.9 318.5h0M1612.4 328.4h0M1622.3 334.6h0M1645.2 335.8h0M1645.2 331.5h0M1658.5 324.0h0M1674.1 330.7h0M1620.5 335.6h0M1638.3 314.2h0M1659.7 334.8h0M1651.4 336.9h0M1622.9 334.4h0M1636.7 334.5h0M1622.7 316.4h0M1657.2 321.0h0M1628.1 315.4h0M1642.3 318.9h0M1646.3 319.6h0M1648.6 315.6h0M1646.4 338.2h0M1644.8 335.8h0M1635.7 330.3h0M1625.7 331.2h0M1674.9 330.5h0M1676.8 333.9h0M1618.7 311.4h0M1639.4 314.2h0M1664.4 323.2h0M1666.1 331.8h0M1631.2 321.7h0M1674.2 330.5h0M1671.8 332.2h0M1640.3 314.1h0M1669.1 336.1h0M1635.3 316.9h0M1675.2 322.6h0M1632.6 315.6h0M1626.9 337.2h0M1661.0 313.2h0M1627.4 333.4h0M1646.4 324.6h0M1656.7 324.5h0M1646.9 333.2h0M1670.0 326.5h0M1661.9 317.9h0M1663.3 327.8h0M1668.1 339.3h0M1614.2 328.4h0M1675.9 324.2h0M1642.9 317.8h0M1651.5 337.2h0M1658.9 332.1h0M1643.8 326.2h0M1672.0 326.6h0M1675.9 336.7h0M1654.1 311.8h0M1668.7 315.4h0M1640.4 332.4h0M1672.0 335.4h0M1676.2 317.5h0M1643.1 315.2h0M1677.2 315.0h0M1646.1 312.4h0M1641.9 312.9h0M1653.4 316.4h0M1651.8 338.0h0M1646.4 334.8h0M1644.9 332.5h0M1665.7 338.2h0M1668.2 328.4h0M1672.6 329.5h0M1630.2 323.5h0M1643.8 324.6h0M1628.1 332.9h0M1661.2 335.5h0M1615.7 322.9h0M1626.8 331.9h0M1665.4 336.4h0M1671.6 332.5h0M1652.0 327.1h0M1630.7 325.6h0M1645.3 332.9h0M1647.8 328.9h0M1638.0 326.3h0M1663.8 332.4h0M1659.4 336.6h0M1628.5 323.9h0M1628.7 338.3h0M1662.2 329.2h0M1661.3 328.0h0M1667.1 323.5h0M1658.9 339.6h0M1637.7 330.2h0M1618.6 326.8h0M1625.4 327.2h0M1614.5 327.3h0M1616.9 331.4h0M1636.8 326.0h0M1672.3 327.4h0M1645.1 338.1h0M1660.1 339.4h0" fill="none" stroke="#0000ff" stroke-width="8.20" stroke-linecap="round" transform="scale(1,1.100)"/>
<path d="M1977.7 51.6h0M1819.4 278.3h0M1827.8 285.8h0M1896.8 280.9h0M1890.6 291.9h0M1821.3 292.2h0M1824.3 295.8h0M1828.5 304.8h0M1864.7 301.7h0M1856.5 302.4h0M1854.2 307.1h0M1919.0 305.5h0M1835.5 311.2h0M1843.8 311.9h0M1826.1 313.9h0M1872.2 311.9h0M1895.3 311.9h0M1903.1 314.2h0M1859.5 315.3h0M1879.6 314.6h0M1811.6 315.6h0M1917.8 317.3h0M1893.8 317.3h0M1883.4 318.6h0M1868.4 315.9h0M1863.9 318.0h0M1858.7 320.7h0M1825.8 320.0h0M1832.6 322.7h0M1838.5 323.5h0M1840.8 325.5h0M1864.7 326.2h0M1862.5 329.5h0M1912.2 329.5h0M1883.7 330.9h0M1820.6 329.5h0M1814.6 332.9h0M1826.6 332.9h0M1820.6 335.6h0M1849.7 334.3h0M1867.7 334.3h0M1875.2 335.0h0M1880.4 334.3h0M1893.1 334.3h0M1865.4 337.7h0M1884.1 339.1h0M1890.9 341.1h0M1915.8 340.0h0M1852.7 338.4h0M1857.2 341.1h0M1838.5 339.7h0M1815.4 340.5h0M1814.6 323.5h0M1833.2 334.6h0M1842.9 328.4h0M1836.4 339.0h0M1846.4 326.9h0M1836.4 334.3h0M1830.6 340.3h0M1831.6 331.3h0M1847.8 334.6h0M1822.8 329.0h0M1830.3 324.5h0M1834.7 336.3h0M1827.6 338.3h0" fill="none" stroke="#ff0000" stroke-width="8.20" stroke-linecap="round" transform="scale(1,1.100)"/>
<line x1="1678.4" y1="38.6" x2="1678.4" y2="444.2" stroke="#444" stroke-width="1.55" stroke-dasharray="4.4 3.6" stroke-dashoffset="-4.5"/>
<line x1="1809.8" y1="38.6" x2="1809.8" y2="444.2" stroke="#444" stroke-width="1.55" stroke-dasharray="4.4 3.6" stroke-dashoffset="-4.5"/>
<line x1="1435.6" y1="375.4" x2="2003.3" y2="375.4" stroke="#444" stroke-width="1.40" stroke-dasharray="4.4 3.6"/>
<rect x="1435.6" y="38.6" width="567.7" height="405.6" fill="none" stroke="#cfcfcf" stroke-width="1.3"/>
<line x1="1480.6" y1="444.2" x2="1480.6" y2="447.6" stroke="#bdbdbd" stroke-width="1.2"/>
<line x1="1612.4" y1="444.2" x2="1612.4" y2="447.6" stroke="#bdbdbd" stroke-width="1.2"/>
<line x1="1744.0" y1="444.2" x2="1744.0" y2="447.6" stroke="#bdbdbd" stroke-width="1.2"/>
<line x1="1875.6" y1="444.2" x2="1875.6" y2="447.6" stroke="#bdbdbd" stroke-width="1.2"/>
<line x1="1432.2" y1="132.0" x2="1435.6" y2="132.0" stroke="#bdbdbd" stroke-width="1.2"/>
<line x1="1432.2" y1="229.8" x2="1435.6" y2="229.8" stroke="#bdbdbd" stroke-width="1.2"/>
<line x1="1432.2" y1="327.8" x2="1435.6" y2="327.8" stroke="#bdbdbd" stroke-width="1.2"/>
<line x1="1432.2" y1="426.0" x2="1435.6" y2="426.0" stroke="#bdbdbd" stroke-width="1.2"/>
</g>
<text x="100.1" y="61.7" font-size="27.7" text-anchor="end" style="font-family:'Liberation Sans',sans-serif" fill="#1a1a1a" textLength="47.2" lengthAdjust="spacingAndGlyphs">10.0</text>
<text x="100.1" y="155.5" font-size="27.7" text-anchor="end" style="font-family:'Liberation Sans',sans-serif" fill="#1a1a1a" textLength="33.9" lengthAdjust="spacingAndGlyphs">7.5</text>
<text x="100.1" y="249.3" font-size="27.7" text-anchor="end" style="font-family:'Liberation Sans',sans-serif" fill="#1a1a1a" textLength="33.9" lengthAdjust="spacingAndGlyphs">5.0</text>
<text x="100.1" y="343.1" font-size="27.7" text-anchor="end" style="font-family:'Liberation Sans',sans-serif" fill="#1a1a1a" textLength="33.9" lengthAdjust="spacingAndGlyphs">2.5</text>
<text x="100.1" y="436.9" font-size="27.7" text-anchor="end" style="font-family:'Liberation Sans',sans-serif" fill="#1a1a1a" textLength="33.9" lengthAdjust="spacingAndGlyphs">0.0</text>
<text x="237.9" y="471.7" font-size="27.1" text-anchor="middle" style="font-family:'Liberation Sans',sans-serif" fill="#1a1a1a" textLength="21.8" lengthAdjust="spacingAndGlyphs">-3</text>
<text x="378.5" y="471.7" font-size="27.1" text-anchor="middle" style="font-family:'Liberation Sans',sans-serif" fill="#1a1a1a" textLength="13.3" lengthAdjust="spacingAndGlyphs">0</text>
<text x="519.3" y="471.7" font-size="27.1" text-anchor="middle" style="font-family:'Liberation Sans',sans-serif" fill="#1a1a1a" textLength="13.3" lengthAdjust="spacingAndGlyphs">3</text>
<text x="660.1" y="471.7" font-size="27.1" text-anchor="middle" style="font-family:'Liberation Sans',sans-serif" fill="#1a1a1a" textLength="13.3" lengthAdjust="spacingAndGlyphs">6</text>
<text x="764.2" y="123.0" font-size="27.8" text-anchor="end" style="font-family:'Liberation Sans',sans-serif" fill="#1a1a1a" textLength="33.5" lengthAdjust="spacingAndGlyphs">7.5</text>
<text x="764.2" y="226.6" font-size="27.8" text-anchor="end" style="font-family:'Liberation Sans',sans-serif" fill="#1a1a1a" textLength="33.5" lengthAdjust="spacingAndGlyphs">5.0</text>
<text x="764.2" y="330.4" font-size="27.8" text-anchor="end" style="font-family:'Liberation Sans',sans-serif" fill="#1a1a1a" textLength="33.5" lengthAdjust="spacingAndGlyphs">2.5</text>
<text x="764.2" y="434.5" font-size="27.8" text-anchor="end" style="font-family:'Liberation Sans',sans-serif" fill="#1a1a1a" textLength="33.5" lengthAdjust="spacingAndGlyphs">0.0</text>
<text x="889.1" y="468.4" font-size="27.6" text-anchor="middle" style="font-family:'Liberation Sans',sans-serif" fill="#1a1a1a" textLength="41.6" lengthAdjust="spacingAndGlyphs">-2.5</text>
<text x="1027.4" y="468.4" font-size="27.6" text-anchor="middle" style="font-family:'Liberation Sans',sans-serif" fill="#1a1a1a" textLength="33.4" lengthAdjust="spacingAndGlyphs">0.0</text>
<text x="1165.7" y="468.4" font-size="27.6" text-anchor="middle" style="font-family:'Liberation Sans',sans-serif" fill="#1a1a1a" textLength="33.4" lengthAdjust="spacingAndGlyphs">2.5</text>
<text x="1304.0" y="468.4" font-size="27.6" text-anchor="middle" style="font-family:'Liberation Sans',sans-serif" fill="#1a1a1a" textLength="33.4" lengthAdjust="spacingAndGlyphs">5.0</text>
<text x="1429.4" y="141.9" font-size="27.6" text-anchor="end" style="font-family:'Liberation Sans',sans-serif" fill="#1a1a1a" textLength="33.5" lengthAdjust="spacingAndGlyphs">7.5</text>
<text x="1429.4" y="239.7" font-size="27.6" text-anchor="end" style="font-family:'Liberation Sans',sans-serif" fill="#1a1a1a" textLength="33.5" lengthAdjust="spacingAndGlyphs">5.0</text>
<text x="1429.4" y="337.7" font-size="27.6" text-anchor="end" style="font-family:'Liberation Sans',sans-serif" fill="#1a1a1a" textLength="33.5" lengthAdjust="spacingAndGlyphs">2.5</text>
<text x="1429.4" y="435.9" font-size="27.6" text-anchor="end" style="font-family:'Liberation Sans',sans-serif" fill="#1a1a1a" textLength="33.5" lengthAdjust="spacingAndGlyphs">0.0</text>
<text x="1481.1" y="471.1" font-size="27.7" text-anchor="middle" style="font-family:'Liberation Sans',sans-serif" fill="#1a1a1a" textLength="21.6" lengthAdjust="spacingAndGlyphs">-6</text>
<text x="1612.7" y="471.1" font-size="27.7" text-anchor="middle" style="font-family:'Liberation Sans',sans-serif" fill="#1a1a1a" textLength="21.6" lengthAdjust="spacingAndGlyphs">-3</text>
<text x="1744.0" y="471.1" font-size="27.7" text-anchor="middle" style="font-family:'Liberation Sans',sans-serif" fill="#1a1a1a" textLength="13.3" lengthAdjust="spacingAndGlyphs">0</text>
<text x="1875.6" y="471.1" font-size="27.7" text-anchor="middle" style="font-family:'Liberation Sans',sans-serif" fill="#1a1a1a" textLength="13.3" lengthAdjust="spacingAndGlyphs">3</text>
<line x1="211" y1="483.9" x2="1860.5" y2="483.9" stroke="#000" stroke-width="2.6"/>
<text x="893.6" y="518.5" font-size="28.0" text-anchor="start" style="font-family:'Liberation Serif',serif;font-weight:bold" fill="#000" textLength="219.2" lengthAdjust="spacingAndGlyphs">Fold change(log2)</text>
<text transform="translate(34.9,374.4) rotate(-90)" font-size="28" style="font-family:'Liberation Serif',serif;font-weight:bold" fill="#000" textLength="260.6" lengthAdjust="spacingAndGlyphs">Significance (-Log10)</text>
<text x="3.0" y="33.9" font-size="28.0" text-anchor="start" style="font-family:'Liberation Serif',serif;font-weight:bold" fill="#000" textLength="38.4" lengthAdjust="spacingAndGlyphs">(A)</text>
<text x="343.8" y="29.9" font-size="24.2" text-anchor="start" style="font-family:'Liberation Serif',serif;font-weight:bold" fill="#000" textLength="33.6" lengthAdjust="spacingAndGlyphs">LD</text>
<text x="1007.2" y="33.6" font-size="24.5" text-anchor="start" style="font-family:'Liberation Serif',serif;font-weight:bold" fill="#000" textLength="31.1" lengthAdjust="spacingAndGlyphs">SB</text>
<text x="1717.6" y="29.8" font-size="25.0" text-anchor="start" style="font-family:'Liberation Serif',serif;font-weight:bold" fill="#000" textLength="38.7" lengthAdjust="spacingAndGlyphs">PM</text>
<polygon points="122.6,4.5 115.4,18.4 129.8,18.4" fill="#ff0000"/>
<rect x="120.2" y="17.9" width="4.8" height="18.2" fill="#ff0000"/>
<polygon points="122.6,71.9 115.4,58.3 129.8,58.3" fill="#00009b"/>
<rect x="120.2" y="41.1" width="4.8" height="17.7" fill="#00009b"/>
<polygon points="788.4,3.0 781.0,17.4 795.8,17.4" fill="#ff0000"/>
<rect x="785.9" y="16.9" width="5.0" height="18.0" fill="#ff0000"/>
<polygon points="788.4,75.5 781.0,62.3 795.8,62.3" fill="#00009b"/>
<rect x="785.9" y="44.8" width="5.0" height="18.0" fill="#00009b"/>
<polygon points="1452.5,5.5 1445.2,19.4 1459.8,19.4" fill="#ff0000"/>
<rect x="1449.8" y="18.9" width="5.4" height="19.0" fill="#ff0000"/>
<polygon points="1452.5,70.5 1445.2,57.8 1459.8,57.8" fill="#00009b"/>
<rect x="1449.8" y="39.9" width="5.4" height="18.4" fill="#00009b"/>
<text x="139.3" y="31.7" font-size="22.0" text-anchor="start" style="font-family:'Liberation Serif',serif;font-weight:bold" fill="#000" textLength="22.6" lengthAdjust="spacingAndGlyphs">66</text>
<text x="142.0" y="64.5" font-size="22.0" text-anchor="start" style="font-family:'Liberation Serif',serif;font-weight:bold" fill="#000" textLength="33.4" lengthAdjust="spacingAndGlyphs">118</text>
<text x="815.8" y="26.2" font-size="22.0" text-anchor="start" style="font-family:'Liberation Serif',serif;font-weight:bold" fill="#000" textLength="34.4" lengthAdjust="spacingAndGlyphs">107</text>
<text x="815.3" y="66.5" font-size="22.0" text-anchor="start" style="font-family:'Liberation Serif',serif;font-weight:bold" fill="#000" textLength="23.0" lengthAdjust="spacingAndGlyphs">65</text>
<text x="1472.7" y="27.4" font-size="22.0" text-anchor="start" style="font-family:'Liberation Serif',serif;font-weight:bold" fill="#000" textLength="22.7" lengthAdjust="spacingAndGlyphs">65</text>
<text x="1472.7" y="62.0" font-size="22.0" text-anchor="start" style="font-family:'Liberation Serif',serif;font-weight:bold" fill="#000" textLength="34.9" lengthAdjust="spacingAndGlyphs">145</text>
<ellipse cx="285.5" cy="777.5" rx="174.0" ry="160.3" fill="#0127a5" fill-opacity="0.45" stroke="#0127a5" stroke-opacity="0.64" stroke-width="3"/>
<ellipse cx="446.6" cy="780.5" rx="174.0" ry="160.6" fill="#c80a04" fill-opacity="0.45" stroke="#c80a04" stroke-opacity="0.64" stroke-width="3"/>
<ellipse cx="364.3" cy="919.5" rx="174.0" ry="160.3" fill="#029801" fill-opacity="0.45" stroke="#029801" stroke-opacity="0.64" stroke-width="3"/>
<text x="194.7" y="756.2" font-size="38.7" text-anchor="middle" style="font-family:'Liberation Sans',sans-serif" fill="#000">52</text>
<text x="365.0" y="727.0" font-size="38.7" text-anchor="middle" style="font-family:'Liberation Sans',sans-serif" fill="#000">9</text>
<text x="525.8" y="753.5" font-size="38.7" text-anchor="middle" style="font-family:'Liberation Sans',sans-serif" fill="#000">92</text>
<text x="364.8" y="833.5" font-size="38.7" text-anchor="middle" style="font-family:'Liberation Sans',sans-serif" fill="#000">3</text>
<text x="251.9" y="906.2" font-size="38.7" text-anchor="middle" style="font-family:'Liberation Sans',sans-serif" fill="#000">2</text>
<text x="462.1" y="909.7" font-size="38.7" text-anchor="middle" style="font-family:'Liberation Sans',sans-serif" fill="#000">3</text>
<text x="356.2" y="1013.1" font-size="38.7" text-anchor="middle" style="font-family:'Liberation Sans',sans-serif" fill="#000">57</text>
<text x="34.0" y="619.6" font-size="28.0" text-anchor="start" style="font-family:'Liberation Serif',serif;font-weight:bold" fill="#000" textLength="37.5" lengthAdjust="spacingAndGlyphs">(B)</text>
<text x="118.6" y="608.7" font-size="24.5" text-anchor="start" style="font-family:'Liberation Serif',serif;font-weight:bold" fill="#000" textLength="86.3" lengthAdjust="spacingAndGlyphs">LD - Up</text>
<text x="502.6" y="608.2" font-size="24.8" text-anchor="start" style="font-family:'Liberation Serif',serif;font-weight:bold" fill="#000" textLength="84.4" lengthAdjust="spacingAndGlyphs">SB - Up</text>
<text x="299.5" y="1115.2" font-size="24.5" text-anchor="start" style="font-family:'Liberation Serif',serif;font-weight:bold" fill="#000" textLength="91.9" lengthAdjust="spacingAndGlyphs">PM - Up</text>
<ellipse cx="956.6" cy="780.3" rx="173.8" ry="160.0" fill="#0127a5" fill-opacity="0.45" stroke="#0127a5" stroke-opacity="0.64" stroke-width="3"/>
<ellipse cx="1117.2" cy="782.8" rx="173.8" ry="160.0" fill="#c80a04" fill-opacity="0.45" stroke="#c80a04" stroke-opacity="0.64" stroke-width="3"/>
<ellipse cx="1035.4" cy="921.3" rx="173.8" ry="159.6" fill="#029801" fill-opacity="0.45" stroke="#029801" stroke-opacity="0.64" stroke-width="3"/>
<text x="867.1" y="758.2" font-size="38.7" text-anchor="middle" style="font-family:'Liberation Sans',sans-serif" fill="#000">102</text>
<text x="1036.2" y="728.1" font-size="38.7" text-anchor="middle" style="font-family:'Liberation Sans',sans-serif" fill="#000">6</text>
<text x="1195.2" y="754.7" font-size="38.7" text-anchor="middle" style="font-family:'Liberation Sans',sans-serif" fill="#000">51</text>
<text x="1036.2" y="834.5" font-size="38.7" text-anchor="middle" style="font-family:'Liberation Sans',sans-serif" fill="#000">2</text>
<text x="923.3" y="907.7" font-size="38.7" text-anchor="middle" style="font-family:'Liberation Sans',sans-serif" fill="#000">8</text>
<text x="1134.0" y="911.2" font-size="38.7" text-anchor="middle" style="font-family:'Liberation Sans',sans-serif" fill="#000">6</text>
<text x="1029.7" y="1013.1" font-size="38.7" text-anchor="middle" style="font-family:'Liberation Sans',sans-serif" fill="#000">129</text>
<text x="766.7" y="614.0" font-size="28.0" text-anchor="start" style="font-family:'Liberation Serif',serif;font-weight:bold" fill="#000" textLength="39.7" lengthAdjust="spacingAndGlyphs">(C)</text>
<text x="849.0" y="607.1" font-size="24.5" text-anchor="start" style="font-family:'Liberation Serif',serif;font-weight:bold" fill="#000" textLength="118.4" lengthAdjust="spacingAndGlyphs">LD - Down</text>
<text x="1148.1" y="607.1" font-size="24.5" text-anchor="start" style="font-family:'Liberation Serif',serif;font-weight:bold" fill="#000" textLength="107.3" lengthAdjust="spacingAndGlyphs">SB- Down</text>
<text x="977.0" y="1114.3" font-size="24.5" text-anchor="start" style="font-family:'Liberation Serif',serif;font-weight:bold" fill="#000" textLength="122.9" lengthAdjust="spacingAndGlyphs">PM - Down</text>
<ellipse cx="1619.9" cy="775.8" rx="173.8" ry="159.6" fill="#0127a5" fill-opacity="0.45" stroke="#0127a5" stroke-opacity="0.64" stroke-width="3"/>
<ellipse cx="1780.2" cy="778.8" rx="173.6" ry="160.0" fill="#c80a04" fill-opacity="0.45" stroke="#c80a04" stroke-opacity="0.64" stroke-width="3"/>
<ellipse cx="1698.6" cy="917.3" rx="173.8" ry="159.6" fill="#029801" fill-opacity="0.45" stroke="#029801" stroke-opacity="0.64" stroke-width="3"/>
<text x="1530.3" y="754.2" font-size="38.7" text-anchor="middle" style="font-family:'Liberation Sans',sans-serif" fill="#000">153</text>
<text x="1700.9" y="724.1" font-size="38.7" text-anchor="middle" style="font-family:'Liberation Sans',sans-serif" fill="#000">15</text>
<text x="1860.4" y="752.2" font-size="38.7" text-anchor="middle" style="font-family:'Liberation Sans',sans-serif" fill="#000">139</text>
<text x="1699.9" y="831.0" font-size="38.7" text-anchor="middle" style="font-family:'Liberation Sans',sans-serif" fill="#000">6</text>
<text x="1588.0" y="903.7" font-size="38.7" text-anchor="middle" style="font-family:'Liberation Sans',sans-serif" fill="#000">10</text>
<text x="1797.7" y="907.2" font-size="38.7" text-anchor="middle" style="font-family:'Liberation Sans',sans-serif" fill="#000">12</text>
<text x="1692.3" y="1008.1" font-size="38.7" text-anchor="middle" style="font-family:'Liberation Sans',sans-serif" fill="#000">182</text>
<text x="1408.9" y="614.0" font-size="28.0" text-anchor="start" style="font-family:'Liberation Serif',serif;font-weight:bold" fill="#000" textLength="38.6" lengthAdjust="spacingAndGlyphs">(D)</text>
<text x="1511.7" y="611.2" font-size="24.5" text-anchor="start" style="font-family:'Liberation Serif',serif;font-weight:bold" fill="#000" textLength="34.6" lengthAdjust="spacingAndGlyphs">LD</text>
<text x="1826.3" y="607.7" font-size="24.5" text-anchor="start" style="font-family:'Liberation Serif',serif;font-weight:bold" fill="#000" textLength="31.6" lengthAdjust="spacingAndGlyphs">SB</text>
<text x="1676.5" y="1110.4" font-size="25.0" text-anchor="start" style="font-family:'Liberation Serif',serif;font-weight:bold" fill="#000" textLength="38.8" lengthAdjust="spacingAndGlyphs">PM</text>
</svg></body></html>
